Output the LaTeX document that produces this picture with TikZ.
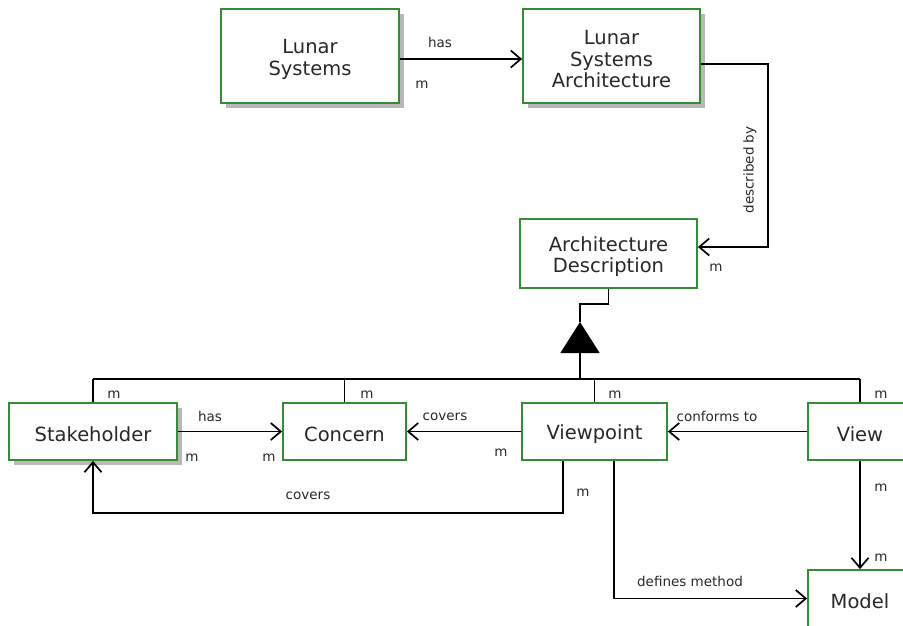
\documentclass[tikz,border=0pt]{standalone}
\usepackage{fontspec}
\setmainfont{DejaVu Sans}
\usetikzlibrary{arrows.meta,shadows}

\definecolor{boxgreen}{RGB}{52,140,52}
\definecolor{txtgray}{RGB}{40,40,40}
\newcommand{\lift}{\rule{0pt}{21pt}}

\begin{document}
\begin{tikzpicture}[x=1pt, y=-1pt, line width=1.7pt,
  box/.style = {draw=boxgreen, line width=1.8pt, fill=white, align=center, text=txtgray,
    inner sep=0pt, font=\fontsize{19.5}{21.5}\selectfont},
  shad/.style = {drop shadow={shadow xshift=5pt, shadow yshift=-5pt, fill=black!28, opacity=1}},
  lbl/.style = {text=txtgray, inner sep=0pt, font=\fontsize{13.5}{15}\selectfont},
  arr/.style = {-{Straight Barb[length=10pt, width=17pt, line width=1.7pt]}}]
\useasboundingbox (0,0) rectangle (903,625);
\clip (0,0) rectangle (903,625);
\node[box, shad, minimum width=178, minimum height=94] (ls) at (310,56) {\lift Lunar\\Systems};
\node[box, shad, minimum width=177, minimum height=94] (lsa) at (611.5,56) {\lift Lunar\\Systems\\Architecture};
\node[box, minimum width=177, minimum height=69] (ad) at (608.5,253.5) {\lift Architecture\\Description};
\node[box, shad, minimum width=168, minimum height=57] (sh) at (93,431.5) {\lift Stakeholder};
\node[box, minimum width=123, minimum height=57] (con) at (344.5,431.5) {\lift Concern};
\node[box, minimum width=145, minimum height=57] (vp) at (594.5,431.5) {\lift Viewpoint};
\node[box, minimum width=104, minimum height=57] (vw) at (860,431.5) {\lift View};
\node[box, minimum width=104, minimum height=57] (mod) at (860,598.5) {\lift Model};
% helper points
\coordinate (c1) at (768,64);
\coordinate (tip) at (580,322);
\coordinate (gen) at (580,379);
% connectors
\draw[arr] ([yshift=-3pt]ls.east) -- ([yshift=-3pt]lsa.west);
\draw[arr] ([yshift=-8pt]lsa.east) -- (c1) |- ([yshift=6.5pt]ad.east);
\draw (ad.south) -- ++(0,15) -| (tip);
\draw[-{Triangle[length=31pt, width=39pt]}] (gen) -- (tip);
\draw (sh.north |- gen) -- (vw.north |- gen);
\draw (sh.north) -- (sh.north |- gen);
\draw (con.north) -- (con.north |- gen);
\draw (vp.north) -- (vp.north |- gen);
\draw (vw.north) -- (vw.north |- gen);
\draw[arr] (sh.east) -- (con.west);
\draw[arr] (vp.west) -- (con.east);
\draw[arr] (vw.west) -- (vp.east);
\draw[arr] ([xshift=-31.5pt]vp.south) -- ++(0,52) -| (sh.south);
\draw[arr] ([xshift=19.5pt]vp.south) |- (mod.west);
\draw[arr] (vw.south) -- (mod.north);
% labels
\node[lbl] (l1) at (440,42) {has};
\node[lbl] (l2) at (422,85) {m};
\node[lbl, rotate=90] (l3) at (750,170) {described by};
\node[lbl] (l4) at (716,268) {m};
\node[lbl] (l5) at (114,395) {m};
\node[lbl] (l6) at (367,395) {m};
\node[lbl] (l7) at (615,395) {m};
\node[lbl] (l8) at (881,395) {m};
\node[lbl] (l9) at (210,416) {has};
\node[lbl] (l10) at (192,458) {m};
\node[lbl] (l11) at (269,458) {m};
\node[lbl] (l12) at (445,417) {covers};
\node[lbl] (l13) at (501,453) {m};
\node[lbl] (l14) at (717,416) {conforms to};
\node[lbl] (l15) at (308,496) {covers};
\node[lbl] (l16) at (583,493) {m};
\node[lbl] (l17) at (690,581) {defines method};
\node[lbl] (l18) at (881,488) {m};
\node[lbl] (l19) at (881,558) {m};
\end{tikzpicture}
\end{document}
